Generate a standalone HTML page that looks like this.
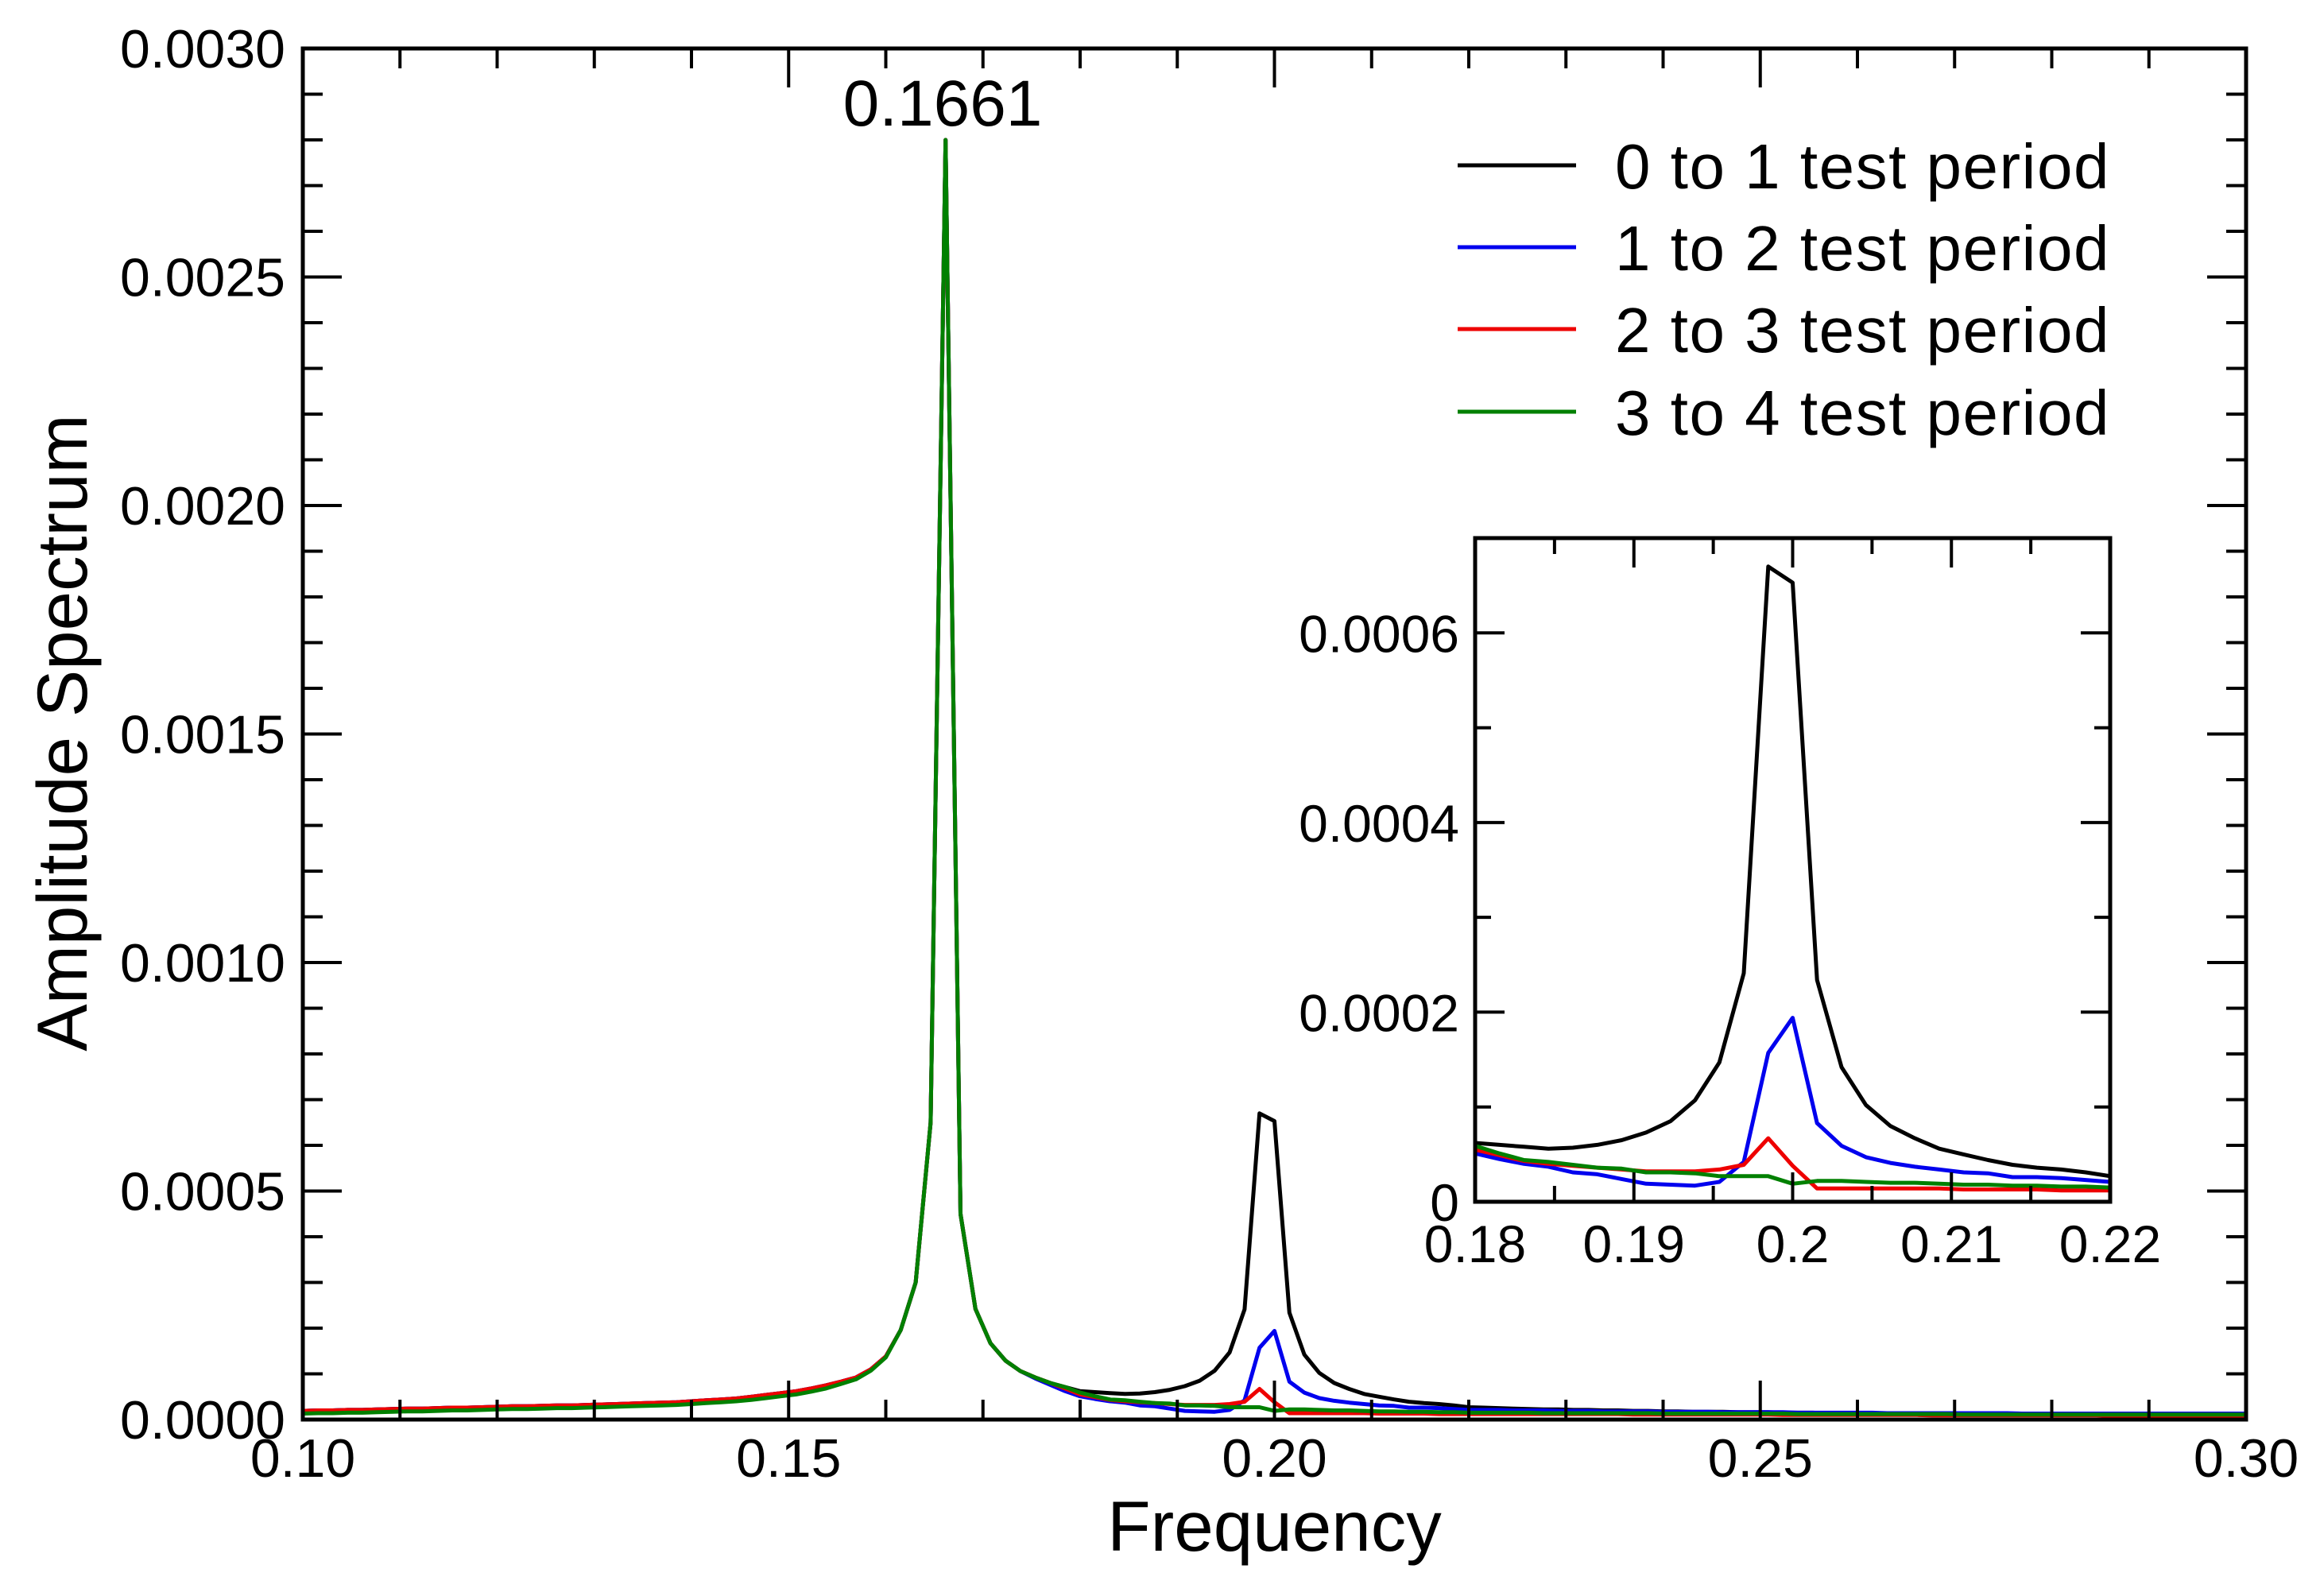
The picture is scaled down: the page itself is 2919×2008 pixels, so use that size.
<!DOCTYPE html>
<html><head><meta charset="utf-8">
<style>
html,body{margin:0;padding:0;background:#fff;}
svg{display:block;}
text{font-family:"Liberation Sans",Arial,sans-serif;fill:#000;}
</style></head>
<body>
<svg id="chart" width="2919" height="2008" viewBox="0 0 2919 2008" xmlns="http://www.w3.org/2000/svg">
<rect x="0" y="0" width="2919" height="2008" fill="#fff"/>
<g id="main-marks"></g>
<g id="main-axes"></g>
<g id="inset"></g>
<g id="legend"></g>
</svg>
<script>
// ---- data (amplitude values in units of 1e-4; frequency bins k/650) ----
const unit = 1e-4;
const binStart = 65;          // first bin index (f = k/650)
const binWidth = 1/650;
const seriesNames = ["0 to 1 test period","1 to 2 test period","2 to 3 test period","3 to 4 test period"];
const seriesColors = ["#000000","#0000ee","#ee0000","#008000"];
const black = [.19,.20,.20,.21,.21,.22,.23,.24,.24,.25,.26,.26,.27,.28,.29,.29,.30,.31,.31,.32,.33,.34,.35,.36,.37,.38,.40,.42,.44,.46,.50,.54,.58,.62,.68,.75,.83,.92,1.10,1.38,1.96,3.0,6.5,28.0,4.5,2.42,1.67,1.29,1.06,.92,.80,.71,
 .62,.60,.58,.56,.57,.60,.65,.73,.85,1.07,1.47,2.41,6.70,6.53,2.34,1.42,1.02,.80,.67,.56,.50,.44,.39,.36,.34,.31,.27,
 .26,.25,.24,.23,.22,.22,.21,.21,.20,.20,.19,.19,.18,.18,.17,.17,.17,.16,.16,.16,.15,.15,.15,.14,.14,.14,.14,.13,.13,.13,.13,.12,.12,.12,.12,.12,.11,.11,.11,.11,.11,.11,.10,.10,.10,.10,.10,.10,.10,.10,.10,.10];
const blue = [.19,.20,.20,.21,.21,.22,.23,.24,.24,.25,.26,.26,.27,.28,.29,.29,.30,.31,.31,.32,.33,.34,.35,.36,.37,.38,.40,.42,.44,.46,.50,.54,.58,.62,.68,.75,.83,.92,1.10,1.38,1.96,3.0,6.5,28.0,4.5,2.42,1.67,1.29,1.06,.90,.76,.62,
 .51,.45,.40,.37,.31,.29,.24,.19,.18,.17,.21,.42,1.57,1.94,.83,.59,.47,.41,.37,.34,.31,.30,.26,.26,.25,.23,.21,
 .21,.21,.20,.20,.20,.19,.19,.19,.18,.18,.18,.18,.17,.17,.17,.17,.16,.16,.16,.16,.16,.15,.15,.15,.15,.15,.15,.14,.14,.14,.14,.14,.14,.14,.14,.14,.13,.13,.13,.13,.13,.13,.13,.13,.13,.13,.13,.13,.13,.13,.13,.13];
const red = [.19,.20,.20,.21,.21,.22,.23,.24,.24,.25,.26,.26,.27,.28,.29,.29,.30,.31,.31,.32,.33,.34,.35,.36,.37,.38,.40,.42,.44,.46,.50,.54,.58,.62,.68,.75,.83,.92,1.10,1.38,1.96,3.0,6.5,28.0,4.5,2.42,1.67,1.29,1.06,.92,.80,.68,
 .55,.49,.43,.40,.38,.36,.34,.32,.32,.32,.34,.39,.67,.38,.14,.14,.14,.14,.14,.14,.13,.13,.13,.13,.12,.12,.12,
 .12,.12,.12,.12,.12,.12,.12,.12,.12,.12,.11,.11,.11,.11,.11,.11,.11,.11,.11,.11,.10,.10,.10,.10,.10,.10,.10,.10,.10,.10,.09,.09,.09,.09,.09,.09,.09,.09,.09,.09,.09,.09,.08,.08,.08,.08,.08,.08,.08,.08,.08,.08];
const green = [.13,.14,.14,.15,.15,.16,.17,.18,.18,.19,.20,.20,.21,.22,.23,.23,.24,.25,.25,.26,.27,.28,.29,.30,.31,.32,.34,.36,.38,.40,.43,.47,.51,.55,.61,.68,.78,.88,1.07,1.36,1.96,3.0,6.5,28.0,4.5,2.42,1.67,1.29,1.06,.92,.80,.71,
 .59,.51,.44,.42,.39,.36,.35,.31,.31,.30,.27,.27,.27,.19,.22,.22,.21,.20,.20,.19,.18,.18,.17,.17,.16,.16,.15,
 .15,.15,.15,.15,.14,.14,.14,.14,.14,.14,.14,.14,.13,.13,.13,.13,.13,.13,.13,.13,.13,.12,.12,.12,.12,.12,.12,.12,.12,.12,.12,.12,.11,.11,.11,.11,.11,.11,.11,.11,.11,.11,.11,.11,.11,.11,.11,.11,.11,.11,.11,.11];
const mainXTicks = ["0.10","0.15","0.20","0.25","0.30"];
const mainYTicks = ["0.0000","0.0005","0.0010","0.0015","0.0020","0.0025","0.0030"];
const insetXTicks = ["0.18","0.19","0.2","0.21","0.22"];
const insetYTicks = ["0","0.0002","0.0004","0.0006"];
const peakLabel = "0.1661";

const NS = "http://www.w3.org/2000/svg";
function mk(tag, attrs, parent){ const e=document.createElementNS(NS,tag); for(const k in attrs) e.setAttribute(k,attrs[k]); parent.appendChild(e); return e; }

const M = {L:381, R:2826, T:61, B:1786, x0:0.10, x1:0.30, y0:0, y1:0.003};
const mx = f => M.L + (f-M.x0)/(M.x1-M.x0)*(M.R-M.L);
const my = v => M.B - (v-M.y0)/(M.y1-M.y0)*(M.B-M.T);
const I = {L:1856, R:2655, T:677, B:1512, x0:0.18, x1:0.22, y0:0, y1:0.0007};
const ix = f => I.L + (f-I.x0)/(I.x1-I.x0)*(I.R-I.L);
const iy = v => I.B - (v-I.y0)/(I.y1-I.y0)*(I.B-I.T);

const svg = document.getElementById('chart');
const defs = mk('defs',{},svg);
const cp1 = mk('clipPath',{id:'clipMain'},defs); mk('rect',{x:M.L,y:M.T,width:M.R-M.L,height:M.B-M.T},cp1);
const cp2 = mk('clipPath',{id:'clipInset'},defs); mk('rect',{x:I.L,y:I.T,width:I.R-I.L,height:I.B-I.T},cp2);

const allSeries = [black, blue, red, green];
function pathFor(arr, fx, fy){
  let d="";
  arr.forEach((v,i)=>{ const f=(binStart+i)*binWidth; d += (i?"L":"M")+fx(f).toFixed(1)+","+fy(v*unit).toFixed(1); });
  return d;
}
const gMain = document.getElementById('main-marks');
gMain.setAttribute('clip-path','url(#clipMain)');
allSeries.forEach((arr,si)=>{
  const p = mk('path',{d:pathFor(arr,mx,my),fill:'none',stroke:seriesColors[si],'stroke-width':5,'stroke-linejoin':'round'},gMain);
  
  
});

const gA = document.getElementById('main-axes');
const frame = mk('rect',{x:M.L,y:M.T,width:M.R-M.L,height:M.B-M.T,fill:'none',stroke:'#000','stroke-width':5},gA);


for(let i=0;i<=20;i++){
  const f = M.x0 + i*0.01, x = mx(f), len = (i%5===0)?49:25;
  mk('line',{x1:x,y1:M.B,x2:x,y2:M.B-len,stroke:'#000','stroke-width':4},gA);
  mk('line',{x1:x,y1:M.T,x2:x,y2:M.T+len,stroke:'#000','stroke-width':4},gA);
}
for(let i=0;i<=30;i++){
  const v = i*0.0001, y = my(v), len = (i%5===0)?49:25;
  mk('line',{x1:M.L,y1:y,x2:M.L+len,y2:y,stroke:'#000','stroke-width':4},gA);
  mk('line',{x1:M.R,y1:y,x2:M.R-len,y2:y,stroke:'#000','stroke-width':4},gA);
}
mainXTicks.forEach(t=>{
  const e = mk('text',{x:mx(parseFloat(t)),y:1858,'font-size':68,'text-anchor':'middle'},gA); e.textContent=t;
  
  
});
mainYTicks.forEach(t=>{
  const e = mk('text',{x:359,y:my(parseFloat(t))+24,'font-size':68,'text-anchor':'end'},gA); e.textContent=t;
  
  
});
const xt = mk('text',{x:(M.L+M.R)/2,y:1951,'font-size':89,'text-anchor':'middle'},gA); xt.textContent="Frequency";


const yt = mk('text',{x:0,y:0,'font-size':89,'text-anchor':'middle',transform:'translate(109,922) rotate(-90)'},gA); yt.textContent="Amplitude Spectrum";


const pl = mk('text',{x:1186,y:158,'font-size':82,'text-anchor':'middle'},gA); pl.textContent=peakLabel;



const gI = document.getElementById('inset');


mk('rect',{x:I.L,y:I.T,width:I.R-I.L,height:I.B-I.T,fill:'#fff'},gI);
const gIm = mk('g',{'clip-path':'url(#clipInset)'},gI);
allSeries.forEach((arr,si)=>{
  const p = mk('path',{d:pathFor(arr,ix,iy),fill:'none',stroke:seriesColors[si],'stroke-width':5,'stroke-linejoin':'round'},gIm);
  
  
});
const iframe = mk('rect',{x:I.L,y:I.T,width:I.R-I.L,height:I.B-I.T,fill:'none',stroke:'#000','stroke-width':5},gI);


for(let i=0;i<=8;i++){
  const x = ix(I.x0 + i*0.005), len = (i%2===0)?37:20;
  mk('line',{x1:x,y1:I.B,x2:x,y2:I.B-len,stroke:'#000','stroke-width':4},gI);
  mk('line',{x1:x,y1:I.T,x2:x,y2:I.T+len,stroke:'#000','stroke-width':4},gI);
}
for(let i=0;i<=7;i++){
  const y = iy(i*0.0001), len = (i%2===0)?37:20;
  mk('line',{x1:I.L,y1:y,x2:I.L+len,y2:y,stroke:'#000','stroke-width':4},gI);
  mk('line',{x1:I.R,y1:y,x2:I.R-len,y2:y,stroke:'#000','stroke-width':4},gI);
}
insetXTicks.forEach(t=>{
  const e = mk('text',{x:ix(parseFloat(t)),y:1588,'font-size':66,'text-anchor':'middle'},gI); e.textContent=t;
  
  
});
insetYTicks.forEach(t=>{
  const e = mk('text',{x:1836,y:iy(parseFloat(t))+24,'font-size':66,'text-anchor':'end'},gI); e.textContent=t;
  
  
});

const gL = document.getElementById('legend');


const legendY = [208,311,414,518];
seriesNames.forEach((n,i)=>{
  const g = mk('g',{},gL);
  
  
  mk('line',{x1:1834,y1:legendY[i],x2:1983,y2:legendY[i],stroke:seriesColors[i],'stroke-width':5},g);
  const t = mk('text',{x:2032,y:legendY[i]+29,'font-size':80,'letter-spacing':1.5},g); t.textContent=n;
});
</script>
</body></html>
